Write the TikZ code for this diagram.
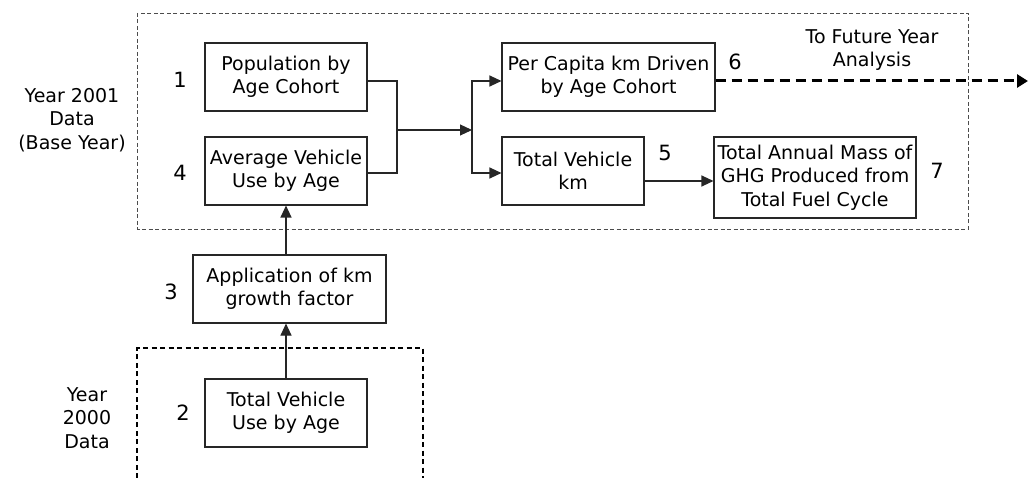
\documentclass[tikz,border=0pt]{standalone}
\usepackage{fontspec}
\setmainfont{DejaVu Sans}
\usetikzlibrary{arrows.meta}
\begin{document}
\begin{tikzpicture}[x=1pt,y=-1pt,
  txt/.style={inner sep=0pt, align=center, font=\fontsize{19}{23.5}\selectfont},
  num/.style={inner sep=0pt, font=\fontsize{21}{24}\selectfont},
  box/.style={txt, draw=black!85, line width=1.1pt},
  ln/.style={line width=1.1pt, draw=black!85},
  arr/.style={ln, -{Triangle[length=12pt,width=11pt]}},
  futarr/.style={line width=3pt, dash pattern=on 10pt off 6pt, -{Triangle[length=11pt,width=13pt]}},
  frameA/.style={line width=0.8pt, draw=black!70, dash pattern=on 4pt off 2.5pt},
  frameB/.style={line width=1.6pt, draw=black, dash pattern=on 5pt off 3.5pt}]
\useasboundingbox (0,0) rectangle (1030,478);

% group frames
\draw[frameA] (137,13) rectangle (968,229);
\draw[frameB] (137,478) -- (137,348) -- (423,348) -- (423,478);

% process boxes
\node[box, minimum width=162pt, minimum height=68pt] (b1) at (286,77) {Population by\\Age Cohort};
\node[box, minimum width=162pt, minimum height=68pt] (b4) at (286,171) {Average Vehicle\\Use by Age};
\node[box, minimum width=213pt, minimum height=68pt] (b6) at (608.5,77) {Per Capita km Driven\\by Age Cohort};
\node[box, minimum width=142pt, minimum height=68pt] (b5) at (573,171) {Total Vehicle\\km};
\node[box, minimum width=202pt, minimum height=81pt] (b7) at (815,177.5) {Total Annual Mass of\\GHG Produced from\\Total Fuel Cycle};
\node[box, minimum width=193pt, minimum height=68pt] (b3) at (289.5,289) {Application of km\\growth factor};
\node[box, minimum width=162pt, minimum height=68pt] (b2) at (286,413) {Total Vehicle\\Use by Age};

% step numbers
\node[num] (n1) at (180,80) {1};
\node[num] (n4) at (180,173) {4};
\node[num] (n3) at (171,292) {3};
\node[num] (n2) at (183,413) {2};
\node[num] (n5) at (665,153) {5};
\node[num] (n6) at (735,62) {6};
\node[num] (n7) at (937,171) {7};

% group and side labels
\node[txt] (g1) at (72,120) {Year 2001\\Data\\(Base Year)};
\node[txt] (g2) at (87,418) {Year\\2000\\Data};
\node[txt] (fut) at (872,50) {To Future Year\\Analysis};

% connectors
\coordinate (j) at (397,130);
\coordinate (s) at (472,130);
\coordinate (end) at (1028,81);
\draw[ln] ([yshift=-4pt]b1.east) -| (j);
\draw[ln] ([yshift=-2pt]b4.east) -| (j);
\draw[arr] (j) -- (s);
\draw[arr] (s) |- ([yshift=-4pt]b6.west);
\draw[arr] (s) |- ([yshift=-2pt]b5.west);
\draw[arr] ([yshift=-10pt]b5.east) -- ([yshift=-10pt]b5.east -| b7.west);
\draw[futarr] ([yshift=-4pt]b6.east) -- (end);
\draw[arr] (b3.north -| b4.south) -- (b4.south);
\draw[arr] (b2.north) -- (b2.north |- b3.south);
\end{tikzpicture}
\end{document}
